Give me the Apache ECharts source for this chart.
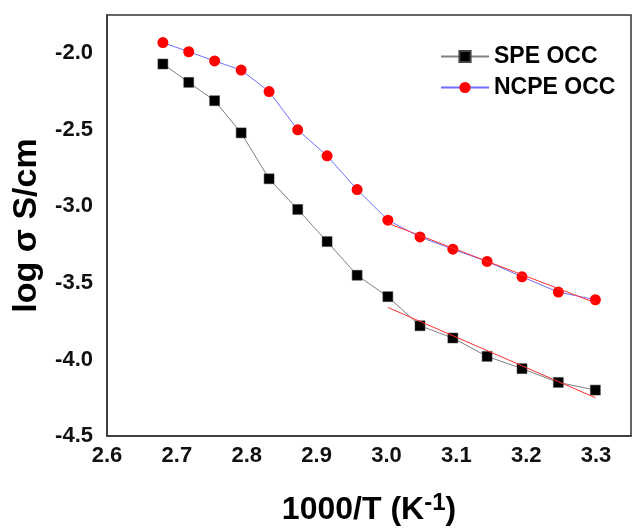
<!DOCTYPE html>
<html>
<head>
<meta charset="utf-8">
<script src="https://cdn.jsdelivr.net/npm/echarts@6/dist/echarts.min.js"></script>
<style>
  html, body { margin: 0; padding: 0; background: #fff; }
  #chart { width: 635px; height: 531px; }
</style>
</head>
<body>
<div id="chart"></div>
<script>
// Inverse temperature, 1000/T (K^-1)
var invT = [2.680, 2.717, 2.754, 2.792, 2.832, 2.873, 2.915, 2.958, 3.002, 3.048, 3.095, 3.144, 3.194, 3.246, 3.299];
// log conductivity (S/cm)
var speOcc  = [-2.07, -2.19, -2.31, -2.52, -2.82, -3.02, -3.23, -3.45, -3.59, -3.78, -3.86, -3.98, -4.06, -4.15, -4.20];
var ncpeOcc = [-1.93, -1.99, -2.05, -2.11, -2.25, -2.50, -2.67, -2.89, -3.09, -3.20, -3.28, -3.36, -3.46, -3.56, -3.61];
// Linear (Arrhenius) fits over the low-temperature region
var fitX    = [3.002, 3.299];
var speFit  = [-3.66, -4.25];
var ncpeFit = [-3.11, -3.63];

function pairs(xs, ys) {
  return xs.map(function (x, i) { return [x, ys[i]]; });
}

var FONT = 'Liberation Sans, Arial, Helvetica, sans-serif';
var chart = echarts.init(document.getElementById('chart'), null, { renderer: 'canvas' });

chart.setOption({
  animation: false,
  backgroundColor: '#fff',
  grid: {
    left: 107, right: 4, top: 15, bottom: 94,
    show: true, borderColor: '#333', borderWidth: 1.5, backgroundColor: 'transparent'
  },
  legend: {
    orient: 'vertical',
    left: 435, top: 40,
    itemWidth: 48, itemHeight: 14, itemGap: 8,
    textStyle: { fontFamily: FONT, fontWeight: 'bold', fontSize: 23, color: '#000', lineHeight: 22 },
    data: ['SPE OCC', 'NCPE OCC']
  },
  xAxis: {
    type: 'value',
    min: 2.6, max: 3.35, interval: 0.1,
    axisLine: { show: true, lineStyle: { color: '#333', width: 1.5 } },
    axisTick: { show: false },
    splitLine: { show: false },
    axisLabel: {
      showMaxLabel: false, margin: 9,
      fontFamily: FONT, fontWeight: 'bold', fontSize: 22, color: '#111',
      formatter: function (v) { return v.toFixed(1); }
    },
    name: '{n|1000/T (K}{s|-1}{n|)}',
    nameLocation: 'middle',
    nameGap: 55,
    nameTextStyle: {
      rich: {
        n: { fontFamily: FONT, fontWeight: 'bold', fontSize: 32, color: '#000' },
        s: { fontFamily: FONT, fontWeight: 'bold', fontSize: 24, color: '#000', verticalAlign: 'top', padding: [0, 0, 14, 0] }
      }
    }
  },
  yAxis: {
    type: 'value',
    min: -4.5, max: -1.75, interval: 0.5,
    axisLine: { show: true, lineStyle: { color: '#333', width: 1.5 } },
    axisTick: { show: false },
    splitLine: { show: false },
    axisLabel: {
      showMaxLabel: false, margin: 14,
      fontFamily: FONT, fontWeight: 'bold', fontSize: 22, color: '#111',
      formatter: function (v) { return v.toFixed(1); }
    },
    name: 'log σ S/cm',
    nameLocation: 'middle',
    nameGap: 63,
    nameTextStyle: { fontFamily: FONT, fontWeight: 'bold', fontSize: 34, color: '#000' }
  },
  series: [
    {
      name: 'SPE OCC',
      type: 'line',
      data: pairs(invT, speOcc),
      symbol: 'rect',
      symbolSize: 10,
      lineStyle: { color: '#808080', width: 1 },
      itemStyle: { color: '#000', borderColor: '#444', borderWidth: 0.5 },
      z: 3
    },
    {
      name: 'NCPE OCC',
      type: 'line',
      data: pairs(invT, ncpeOcc),
      symbol: 'circle',
      symbolSize: 11,
      lineStyle: { color: '#6e6eff', width: 1 },
      itemStyle: { color: '#ff0000' },
      z: 3
    },
    {
      name: 'SPE fit',
      type: 'line',
      data: pairs(fitX, speFit),
      showSymbol: false,
      silent: true,
      lineStyle: { color: '#ff3030', width: 1 },
      z: 4
    },
    {
      name: 'NCPE fit',
      type: 'line',
      data: pairs(fitX, ncpeFit),
      showSymbol: false,
      silent: true,
      lineStyle: { color: '#ff3030', width: 1 },
      z: 4
    }
  ]
});
</script>
</body>
</html>
